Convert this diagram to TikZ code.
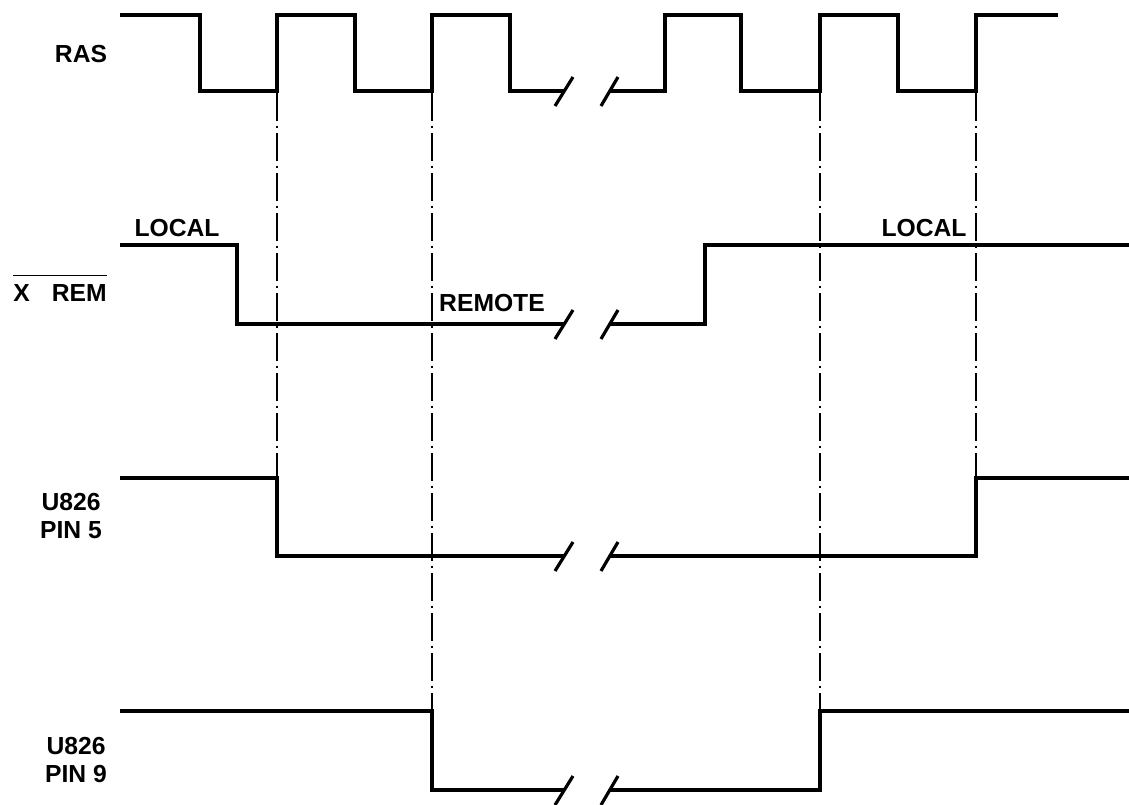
\documentclass[tikz,border=0pt]{standalone}
\usepackage{fontspec}
\setmainfont{Liberation Sans}

\begin{document}
\begin{tikzpicture}[x=0.75pt,y=-0.75pt,
  sig/.style={line width=2.4pt,line join=miter},
  guide/.style={line width=1.6pt,dash pattern=on 21pt off 3.5pt on 2pt off 3.5pt},
  lbl/.style={font=\bfseries\fontsize{18.5}{21}\selectfont,align=center,inner sep=0pt}]
  \useasboundingbox (0,0) rectangle (1129,804);

  % signal names
  \node[lbl] (ras) at (81,54) {RAS};
  \node[lbl] (xrem) at (60,288) {$\overline{\mbox{\rule{0pt}{1em}X\hspace{0.9em}REM}}$};
  \node[lbl] (pinfive) at (71,516) {U826\\PIN 5};
  \node[lbl] (pinnine) at (76,760) {U826\\PIN 9};

  % state names
  \node[lbl] (localA) at (177,228) {LOCAL};
  \node[lbl] (remote) at (492,303) {REMOTE};
  \node[lbl] (localB) at (924,228) {LOCAL};

  % RAS
  \draw[sig] (120,15) -| (200,91) -| (277,15) -| (355,91) -| (432,15) -| (510,91) -- (565,91);
  \draw[sig] (610,91) -| (665,15) -| (741,91) -| (820,15) -| (898,91) -| (976,15) -- (1058,15);
  % X REM
  \draw[sig] (120,245) -| (237,324) -- (565,324);
  \draw[sig] (610,324) -| (705,245) -- (1129,245);
  % U826 pin 5
  \draw[sig] (120,478) -| (277,556) -- (565,556);
  \draw[sig] (610,556) -| (976,478) -- (1129,478);
  % U826 pin 9
  \draw[sig] (120,711) -| (432,790) -- (565,790);
  \draw[sig] (610,790) -| (820,711) -- (1129,711);

  % breaks
  \foreach \y in {91,324,556,790}
  {
    \draw[sig] (555,\y+15) -- (573,\y-14);
    \draw[sig] (601,\y+15) -- (618,\y-14);
  }

  % timing references
  \coordinate (ta) at (277,93);  \coordinate (tb) at (277,478);
  \coordinate (tc) at (432,93);  \coordinate (td) at (432,711);
  \coordinate (te) at (820,93);  \coordinate (tf) at (820,711);
  \coordinate (tg) at (976,93);  \coordinate (th) at (976,478);
  \draw[guide] (ta) -- (tb);
  \draw[guide] (tc) -- (td);
  \draw[guide] (te) -- (tf);
  \draw[guide] (tg) -- (th);
\end{tikzpicture}
\end{document}
